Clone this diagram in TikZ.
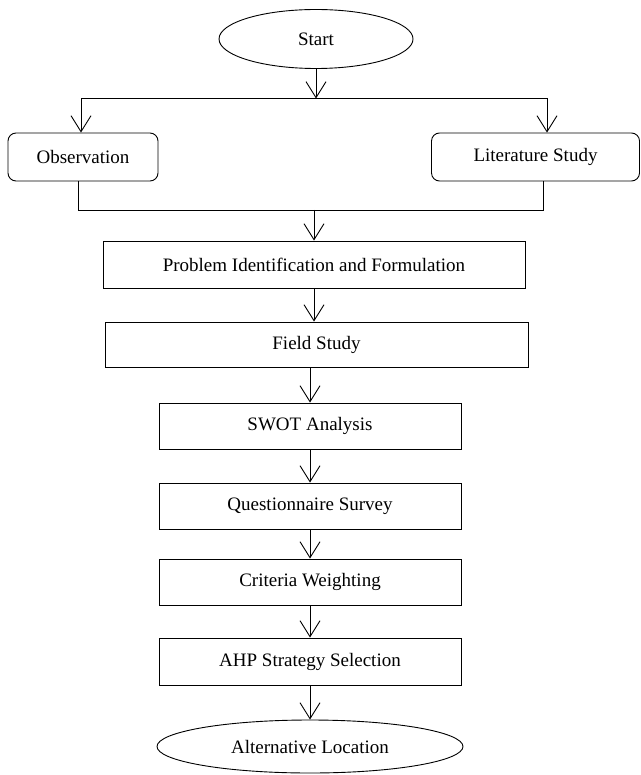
\documentclass[tikz,border=0pt]{standalone}
\usepackage{fontspec}
\setmainfont{Liberation Serif}
\usetikzlibrary{shapes.geometric,arrows.meta}
\begin{document}
\begin{tikzpicture}[x=1pt,y=-1pt,line width=0.9pt,
    >={Straight Barb[length=16pt,width=20pt,line width=0.9pt]},
    every node/.style={font=\fontsize{19}{22}\selectfont,inner sep=0pt},
    box/.style={draw,rectangle,minimum height=46pt},
    rbox/.style={draw,rectangle,rounded corners=8pt,minimum height=48pt},
    term/.style={draw,ellipse}]
    \useasboundingbox (0,0) rectangle (640,775);

    % Draw start and the two first steps
    \node[term,minimum width=194pt,minimum height=59pt] (start) at (316,39) {Start};
    \node[rbox,minimum width=150pt] (obs) at (83,157) {Observation};
    \node[rbox,minimum width=208pt] (lit) at (535.5,157) {Literature Study};

    % Draw the main steps
    \node[box,minimum width=422pt,minimum height=47pt] (prob) at (314,264.5) {Problem Identification and Formulation};
    \node[box,minimum width=423pt,minimum height=45pt] (field) at (316.5,344.5) {Field Study};
    \node[box,minimum width=302pt] (swot) at (310,426) {SWOT Analysis};
    \node[box,minimum width=302pt] (quest) at (310,506) {Questionnaire Survey};
    \node[box,minimum width=302pt] (crit) at (310,582) {Criteria Weighting};
    \node[box,minimum width=302pt,minimum height=47pt] (ahp) at (310,661.5) {AHP Strategy Selection};
    \node[term,minimum width=306pt,minimum height=53pt] (alt) at (310,746.5) {Alternative Location};

    % Split and join lines
    \coordinate (sl) at (81,98.5);
    \coordinate (sr) at (547,98.5);
    \coordinate (jl) at (78,210);
    \coordinate (jr) at (543,210);
    \draw[->] (start.south) -- (start.south |- sl);
    \draw (sl) -- (sr);
    \draw[->] (sl) -- (sl |- obs.north);
    \draw[->] (sr) -- (sr |- lit.north);
    \draw (jl |- obs.south) -- (jl) -- (jr) -- (jr |- lit.south);
    \draw[->] (prob.north |- jl) -- (prob.north);

    % Draw arrows between the steps
    \draw[->] (prob.south) -- (prob.south |- field.north);
    \draw[->] (swot.north |- field.south) -- (swot.north);
    \draw[->] (swot.south) -- (quest.north);
    \draw[->] (quest.south) -- (crit.north);
    \draw[->] (crit.south) -- (ahp.north);
    \draw[->] (ahp.south) -- (alt.north);
\end{tikzpicture}
\end{document}
